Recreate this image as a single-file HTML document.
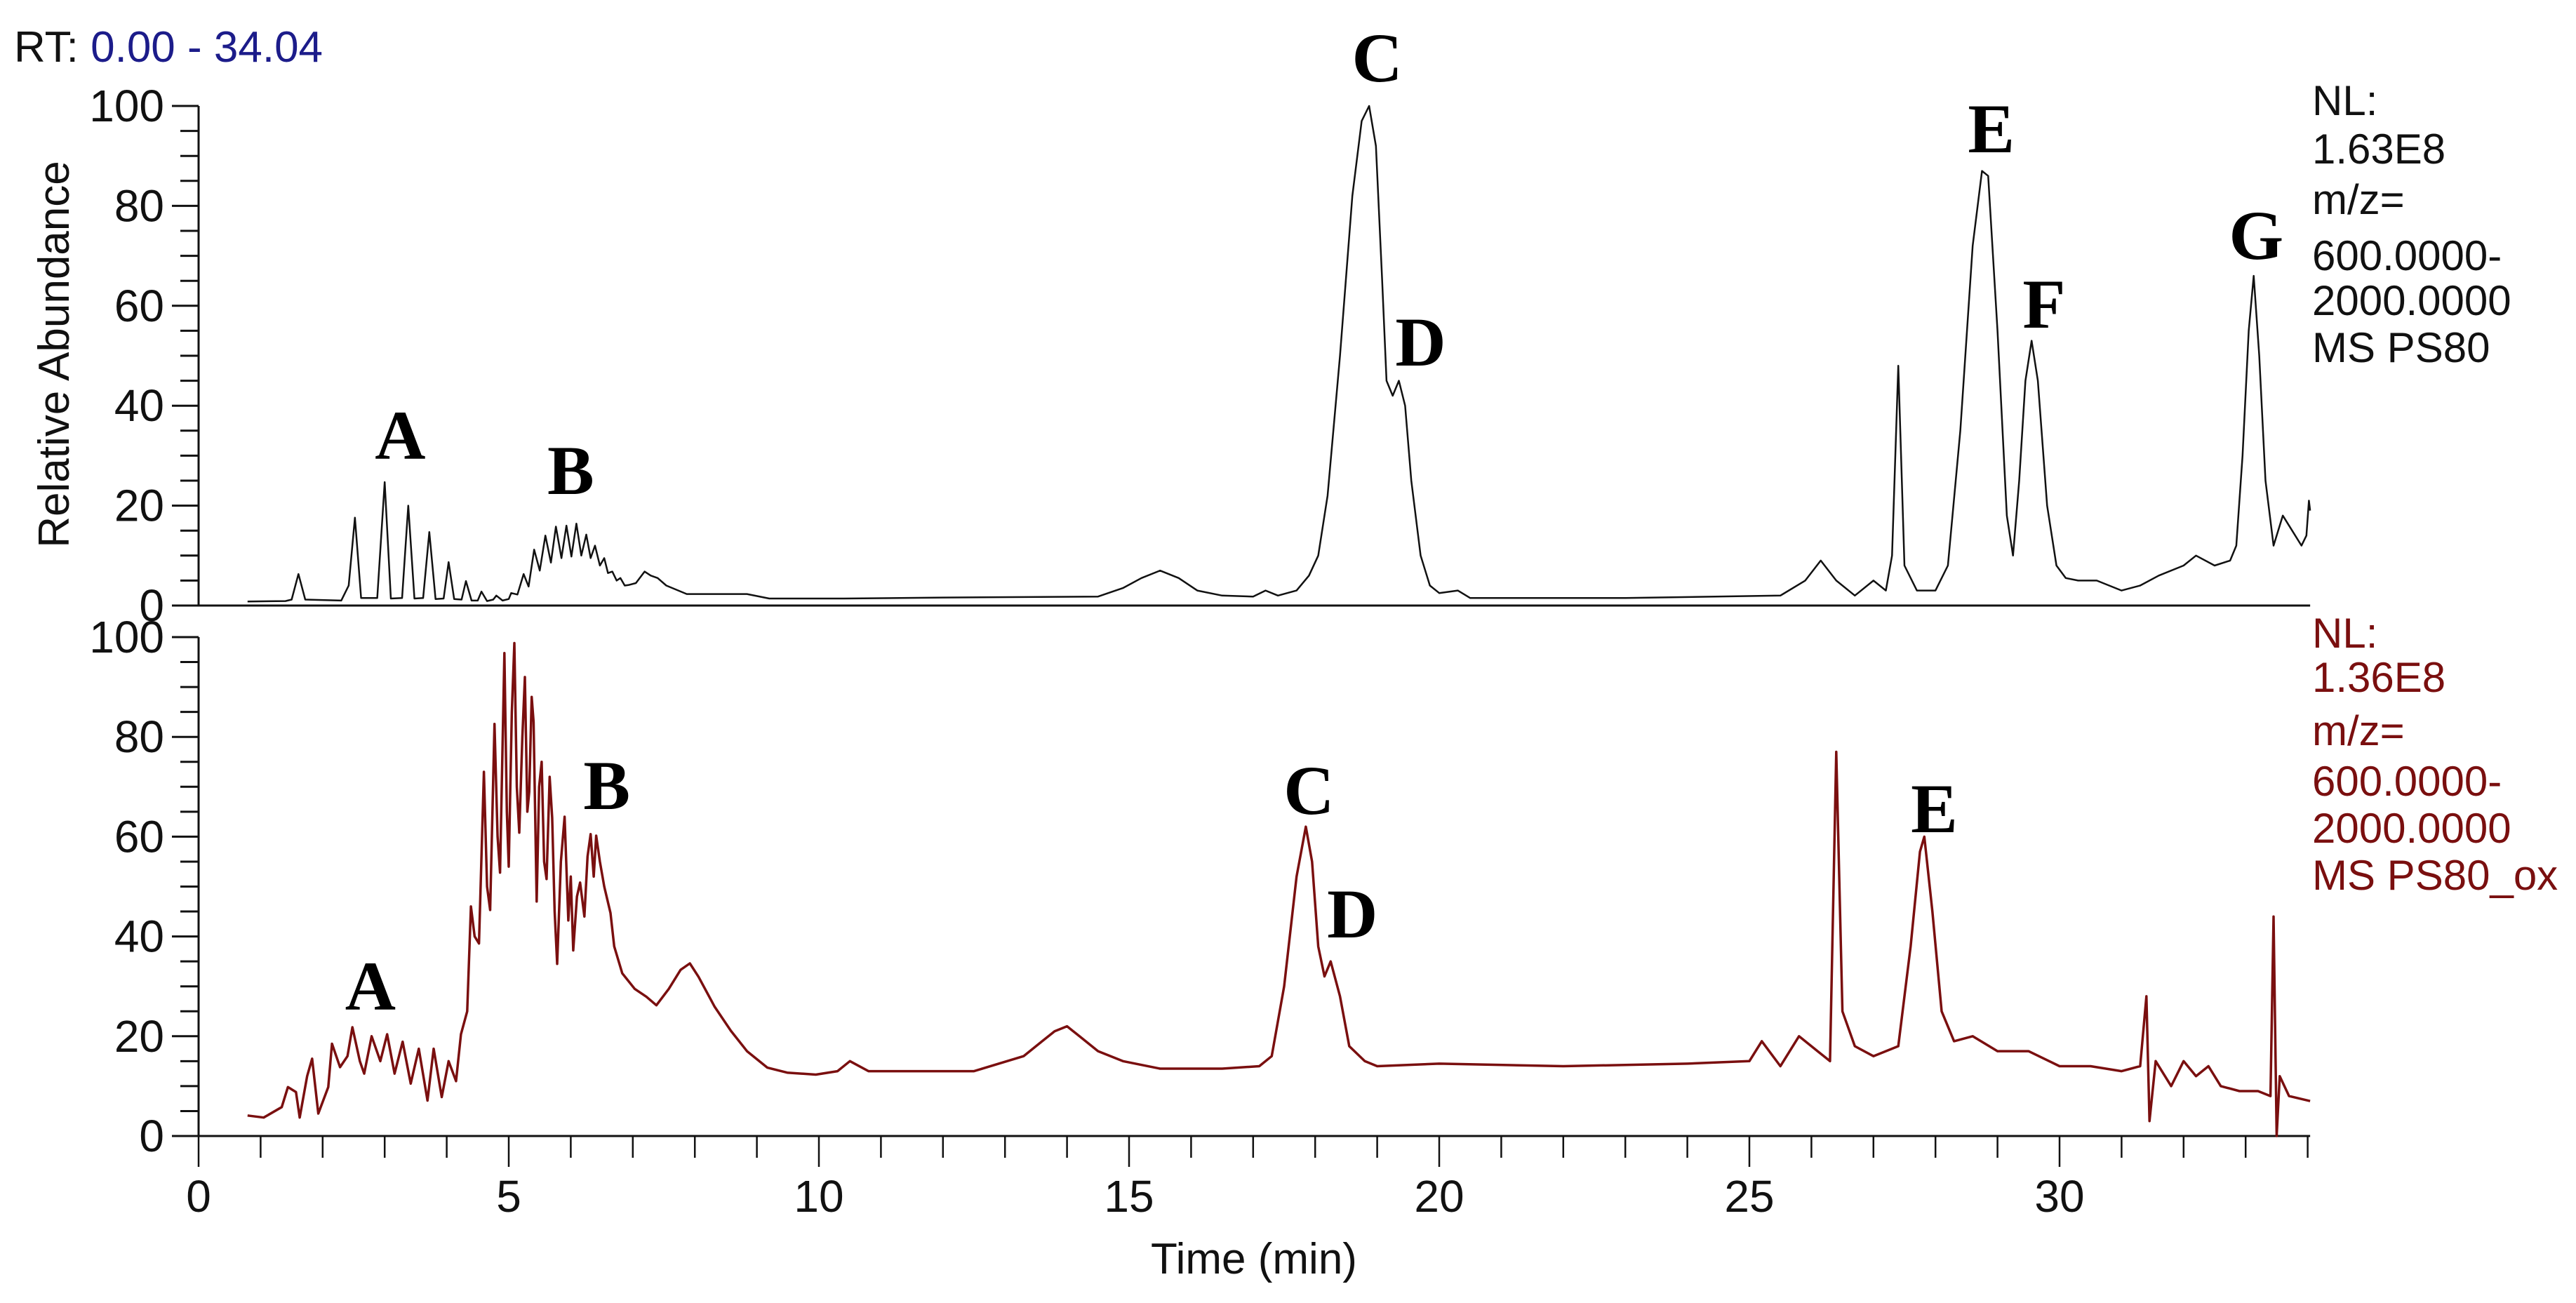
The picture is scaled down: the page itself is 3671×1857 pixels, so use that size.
<!DOCTYPE html>
<html><head><meta charset="utf-8">
<style>
html,body{margin:0;padding:0;background:#fff;}
svg{display:block;}
text{font-family:"Liberation Sans",Arial,sans-serif;}
.pk{font-family:"Liberation Serif","Times New Roman",serif;font-weight:bold;font-size:100px;fill:#000;text-anchor:middle;}
</style></head>
<body>
<svg id="chart" width="3671" height="1857" viewBox="0 0 3671 1857" xmlns="http://www.w3.org/2000/svg">
<text x="20" y="88" font-size="62" fill="#111">RT: <tspan fill="#1c1c8a">0.00 - 34.04</tspan></text>
<text transform="translate(98,505) rotate(-90)" font-size="62" text-anchor="middle" fill="#111">Relative Abundance</text>
<text x="1787" y="1815" font-size="62" text-anchor="middle" fill="#111">Time (min)</text>
<g font-size="60" fill="#111">
<text x="3295" y="164">NL:</text><text x="3295" y="233">1.63E8</text><text x="3295" y="305">m/z=</text><text x="3295" y="385">600.0000-</text><text x="3295" y="449">2000.0000</text><text x="3295" y="516">MS PS80</text>
</g>
<g font-size="60" fill="#7a0f0f">
<text x="3295" y="923">NL:</text><text x="3295" y="986">1.36E8</text><text x="3295" y="1062">m/z=</text><text x="3295" y="1134">600.0000-</text><text x="3295" y="1201">2000.0000</text><text x="3295" y="1268">MS PS80_ox</text>
</g>
<g id="axes"></g>
<g id="traces"></g>
<g id="labels"></g>
</svg>
<script>
// data arrays (time in min, relative abundance %)
const topTimes = [0.79,1.4,1.5,1.61,1.72,2.3,2.42,2.52,2.62,2.88,3.0,3.1,3.28,3.38,3.48,3.62,3.72,3.82,3.95,4.03,4.12,4.24,4.31,4.4,4.5,4.56,4.65,4.75,4.8,4.9,5.0,5.04,5.14,5.24,5.32,5.41,5.5,5.59,5.68,5.76,5.85,5.93,6.01,6.09,6.17,6.25,6.32,6.39,6.47,6.54,6.6,6.67,6.74,6.8,6.87,6.93,7.05,7.19,7.29,7.4,7.54,7.87,8.84,9.2,10.4,12,14.5,14.9,15.2,15.5,15.8,16.1,16.5,17.0,17.2,17.4,17.7,17.9,18.05,18.2,18.4,18.6,18.75,18.87,18.98,19.08,19.15,19.25,19.35,19.45,19.55,19.7,19.85,20.0,20.3,20.5,21,23,25.5,25.9,26.15,26.4,26.7,27.0,27.2,27.3,27.4,27.5,27.7,28.0,28.2,28.4,28.6,28.75,28.85,29.0,29.15,29.25,29.35,29.45,29.55,29.65,29.8,29.95,30.1,30.3,30.6,31.0,31.3,31.6,32.0,32.2,32.5,32.75,32.85,32.95,33.05,33.13,33.22,33.32,33.45,33.6,33.75,33.9,33.98,34.02,34.04];
const topValues = [0.8,0.9,1.2,6.3,1.2,1.0,4,17.6,1.5,1.5,24.7,1.4,1.5,20,1.4,1.5,14.7,1.3,1.4,8.7,1.3,1.2,4.9,1.0,1.0,2.8,0.9,1.2,2.0,1.0,1.3,2.5,2.2,6.3,3.8,11.2,7,14,8.6,15.8,9.5,16,9.8,16.4,10,14.2,9.5,12,8,9.5,6.5,6.8,5,5.5,4,4.1,4.5,6.8,6,5.5,4,2.3,2.3,1.4,1.4,1.6,1.8,3.5,5.5,7,5.5,3,2,1.8,3,2,3,6,10,22,50,82,97,100,92,65,45,42,45,40,25,10,4,2.5,3,1.5,1.5,1.5,2,5,9,5,2,5,3,10,48,8,3,3,8,35,72,87,86,55,18,10,25,45,53,45,20,8,5.5,5,5,3,4,6,8,10,8,9,12,30,55,66,50,25,12,18,15,12,14,21,19];
const botTimes = [0.79,1.05,1.34,1.44,1.57,1.63,1.75,1.83,1.93,2.09,2.15,2.28,2.4,2.48,2.6,2.67,2.79,2.93,3.04,3.16,3.29,3.42,3.55,3.69,3.79,3.92,4.03,4.15,4.23,4.33,4.39,4.45,4.52,4.6,4.65,4.7,4.77,4.82,4.86,4.93,4.97,5.0,5.05,5.09,5.13,5.17,5.22,5.26,5.3,5.33,5.37,5.4,5.45,5.49,5.53,5.57,5.61,5.66,5.7,5.74,5.78,5.84,5.9,5.96,6.0,6.04,6.1,6.15,6.22,6.27,6.32,6.37,6.41,6.47,6.54,6.64,6.7,6.83,7.03,7.22,7.38,7.58,7.77,7.92,8.06,8.32,8.58,8.84,9.17,9.49,9.95,10.3,10.5,10.8,11.5,12.5,13.3,13.6,13.8,14.0,14.2,14.5,14.9,15.5,16.5,17.1,17.3,17.5,17.7,17.85,17.95,18.05,18.15,18.25,18.4,18.55,18.8,19.0,20,22,24,25.0,25.2,25.5,25.8,26.1,26.3,26.4,26.5,26.7,27.0,27.4,27.6,27.75,27.82,27.95,28.1,28.3,28.6,29.0,29.5,30.0,30.5,31.0,31.3,31.4,31.45,31.55,31.8,32.0,32.2,32.4,32.6,32.9,33.2,33.4,33.45,33.5,33.55,33.7,34.04];
const botValues = [4.1,3.7,5.8,9.8,8.8,3.7,12,15.5,4.5,9.8,18.5,13.8,16,21.8,15,12.5,20,15,20.4,12.5,18.9,10.5,17.5,7.1,17.5,7.8,15,11,20.4,25,46,40,38.6,73,50,45.3,82.6,60,52.8,96.8,65,54,85,98.8,70,60.8,80,92,65,69,88,83,47,70,75,55,51.5,72,63.8,45,34.5,55,64,43.2,52,37.2,48,50.8,44,56,60.5,52,60.2,55,50,44.7,38,32.6,29.5,27.9,26.2,29.5,33.3,34.6,31.9,25.9,21.1,17,13.7,12.7,12.3,13,15,13,13,13,16,19,21,22,20,17,15,13.5,13.5,14,16,30,52,62,55,38,32,35,28,18,15,14,14.5,14,14.5,15,19,14,20,17,15,77,25,18,16,18,38,57,60,45,25,19,20,17,17,14,14,13,14,28,3,15,10,15,12,14,10,9,9,8,44,0,12,8,7];
const xTicks = [0,5,10,15,20,25,30];
const yTicks = [0,20,40,60,80,100];
const topPeaks = ["A","B","C","D","E","F","G"];
const topPeakPos = [[3.25,620],[6.0,670],[19.0,82],[19.7,487],[28.9,183],[29.75,433],[33.17,335]];
const botPeaks = ["A","B","C","D","E"];
const botPeakPos = [[2.77,1405],[6.58,1119],[17.9,1126],[18.6,1302],[27.98,1152]];

const NS="http://www.w3.org/2000/svg";
const X0=283, PXMIN=88.4;
const xs=t=>X0+t*PXMIN;
const yTop=v=>863-v*7.12;
const yBot=v=>1619-v*7.11;
function mk(tag,attrs,parent){const e=document.createElementNS(NS,tag);for(const k in attrs)e.setAttribute(k,attrs[k]);parent.appendChild(e);return e;}
const axes=document.getElementById('axes'), traces=document.getElementById('traces'), labels=document.getElementById('labels');

function yAxis(ys,name){
  const g=mk('g',{},axes);
  
  
  mk('line',{x1:X0,y1:ys(0)+1,x2:X0,y2:ys(100),stroke:'#111','stroke-width':3},g);
  for(let v=0;v<=100;v+=5){
    const major=v%20===0;
    const l=mk('line',{x1:major?245:257,y1:ys(v),x2:X0,y2:ys(v),stroke:'#111','stroke-width':3},g);
    
    
  }
  yTicks.forEach(v=>{
    const t=mk('text',{x:234,y:ys(v)+22,'font-size':64,'text-anchor':'end',fill:'#111'},g);
    
    
    t.textContent=v;
  });
  mk('line',{x1:X0,y1:ys(0),x2:xs(34.04),y2:ys(0),stroke:'#111','stroke-width':3},g);
}
yAxis(yTop,'top-y-axis');
yAxis(yBot,'bottom-y-axis');
const xg=mk('g',{},axes);


for(let t=0;t<=34;t++){
  const major=t%5===0;
  const l=mk('line',{x1:xs(t),y1:1619,x2:xs(t),y2:major?1663:1650,stroke:'#111','stroke-width':2.5},xg);
  
  
}
xTicks.forEach(t=>{
  const e=mk('text',{x:xs(t),y:1727,'font-size':64,'text-anchor':'middle',fill:'#111'},xg);
  
  
  e.textContent=t;
});

function trace(ts,vs,ys,color,w,name){
  const d=ts.map((t,i)=>(i?'L':'M')+xs(t).toFixed(1)+' '+ys(vs[i]).toFixed(1)).join(' ');
  const p=mk('path',{d:d,fill:'none',stroke:color,'stroke-width':w,'stroke-linejoin':'round'},traces);
  
  
}
trace(topTimes,topValues,yTop,'#111',2.5,'ps80-trace');
trace(botTimes,botValues,yBot,'#7a0f0f',3.5,'ps80-ox-trace');

function peakLabels(names,pos,prefix){
  names.forEach((n,i)=>{
    const e=mk('text',{x:xs(pos[i][0]),y:pos[i][1]+34,class:'pk'},labels);
    
    
    e.textContent=n;
  });
}
peakLabels(topPeaks,topPeakPos,'top');
peakLabels(botPeaks,botPeakPos,'bottom');
</script>
</body></html>
